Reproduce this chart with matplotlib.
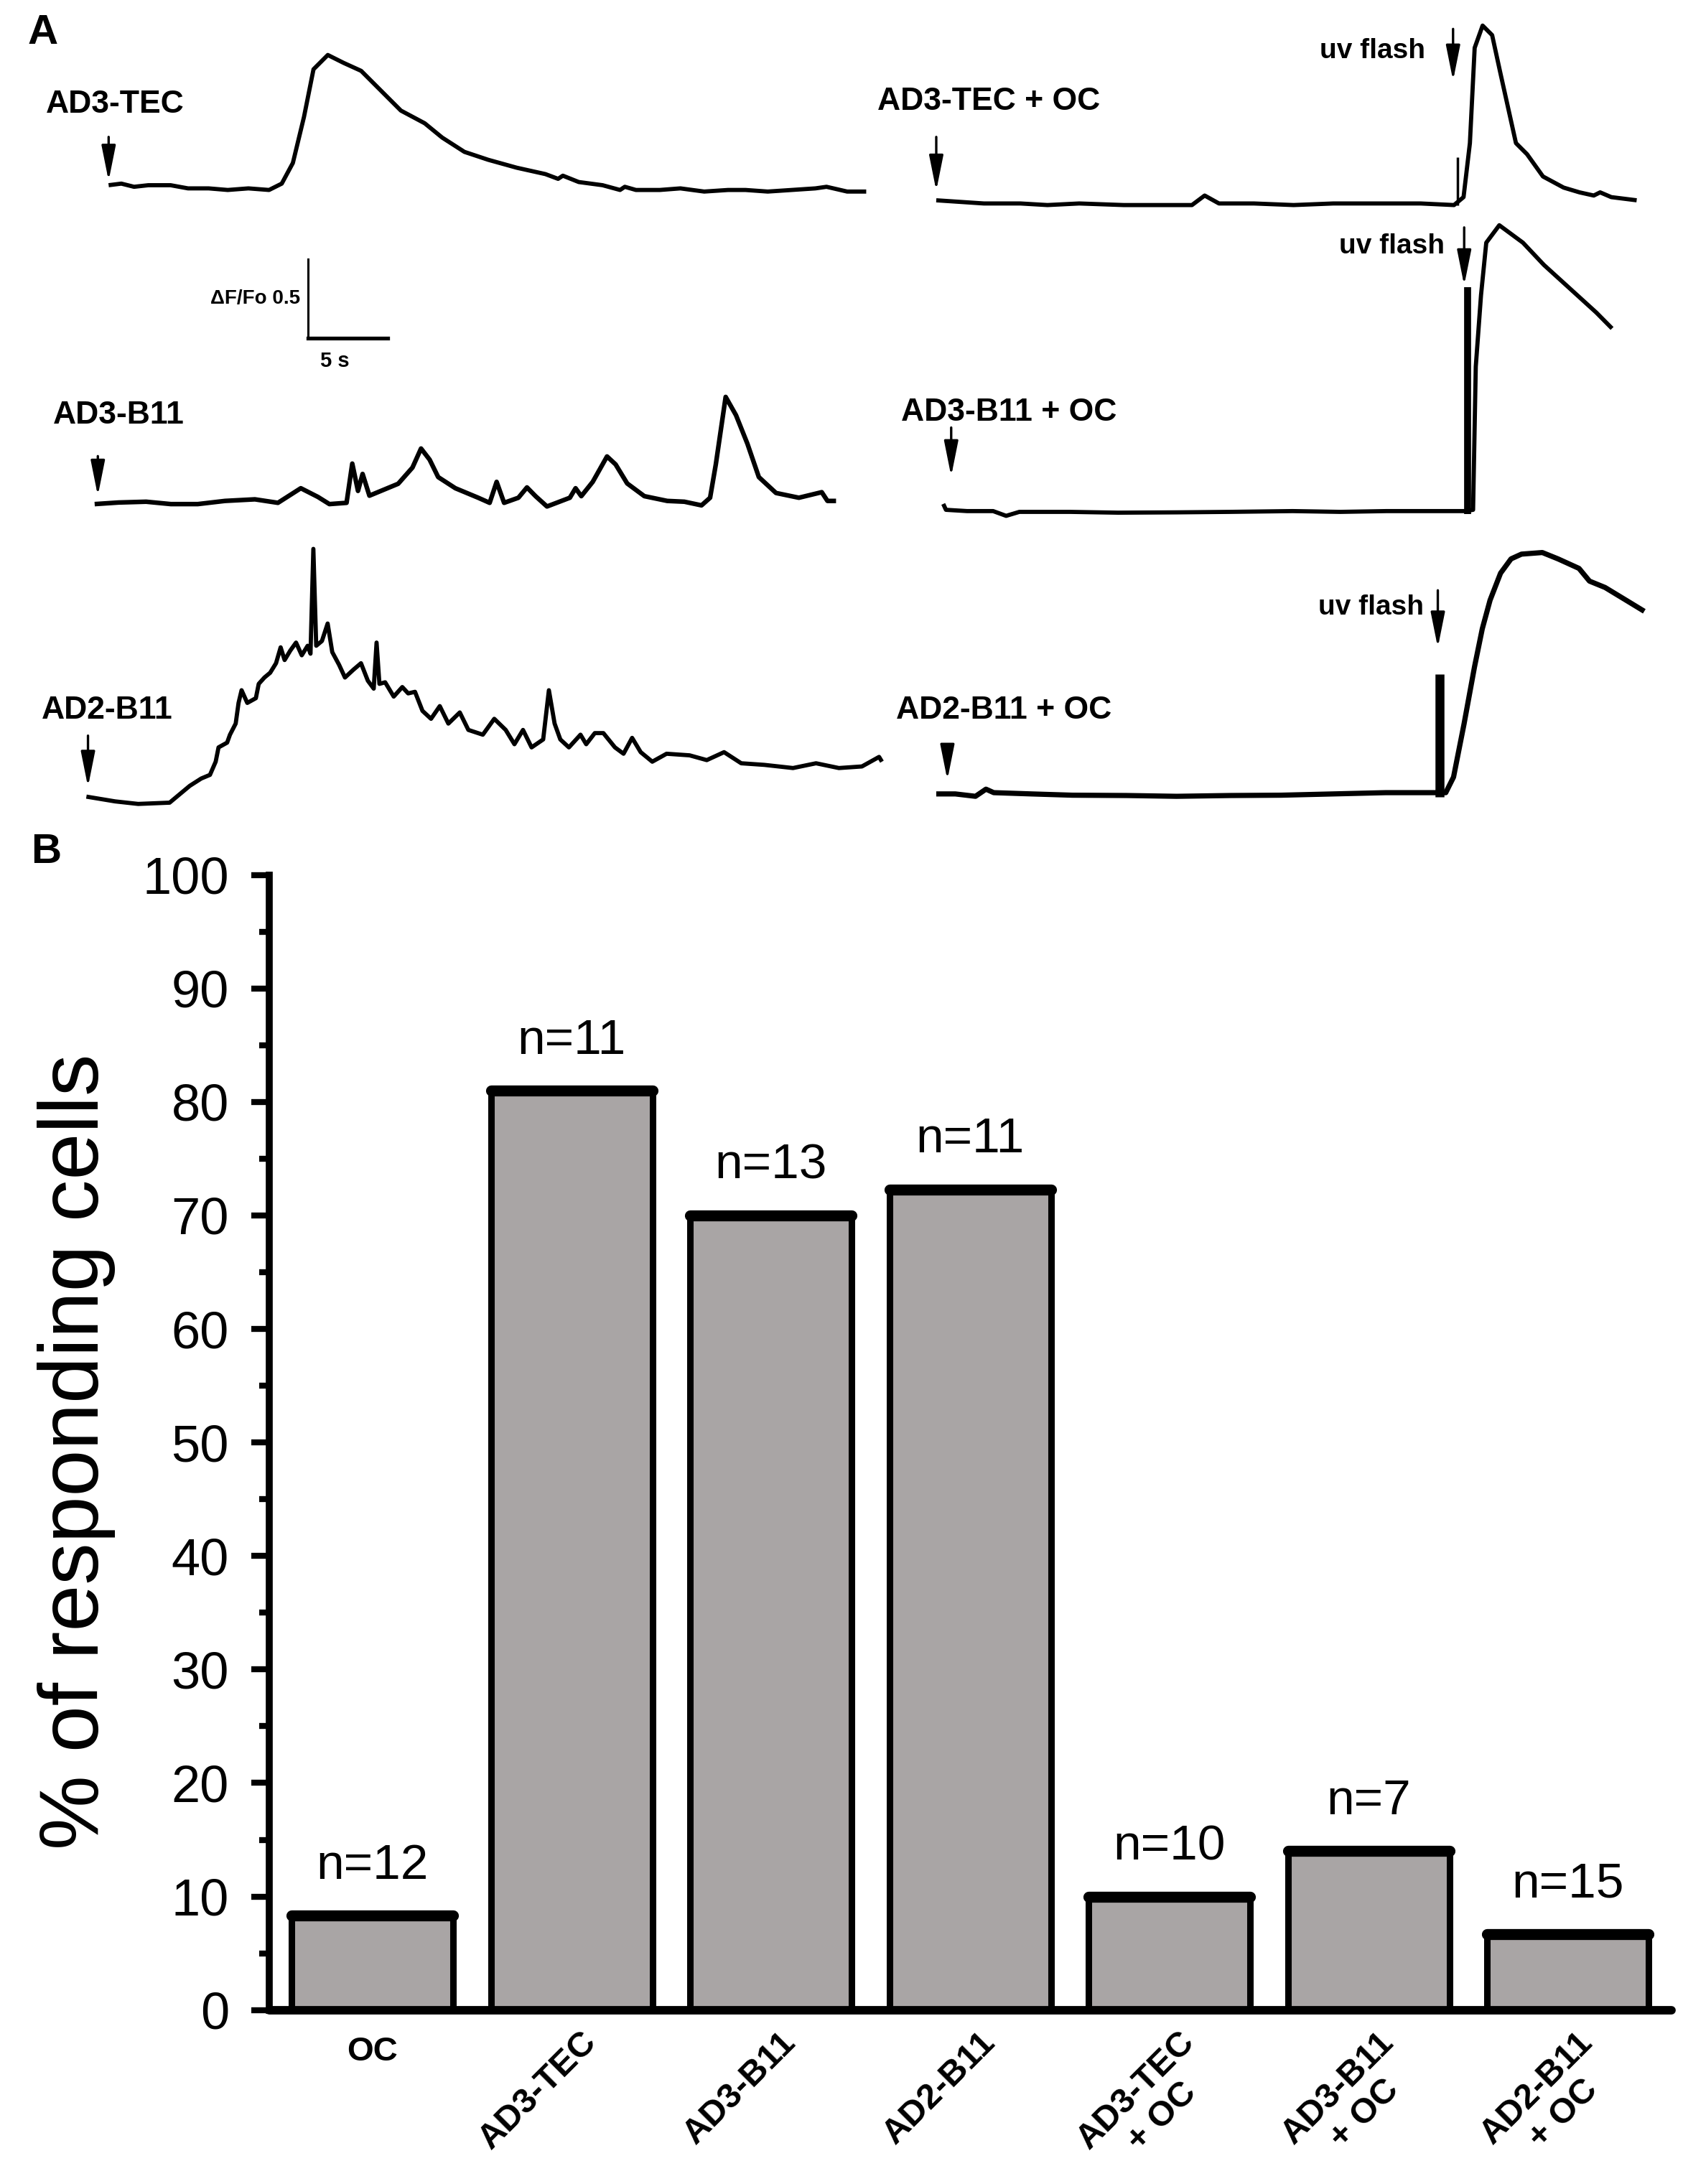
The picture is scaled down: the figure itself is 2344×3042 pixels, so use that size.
import matplotlib
matplotlib.use("Agg")
import matplotlib.pyplot as plt
import matplotlib.transforms as mtransforms
from matplotlib.ticker import MultipleLocator

plt.rcParams['font.family'] = ['Liberation Sans', 'DejaVu Sans']

# ---------------- Panel B data ----------------
groups = ['OC', 'AD3-TEC', 'AD3-B11', 'AD2-B11',
          'AD3-TEC\n+ OC', 'AD3-B11\n+ OC', 'AD2-B11\n+ OC']
pct_responding = [8.3, 81.0, 70.0, 72.3, 10.0, 14.0, 6.7]
n_cells = [12, 11, 13, 11, 10, 7, 15]

# ---------------- Panel A traces (time in s, dF/Fo) ----------------
ad3_tec = [(0, 0.00), (0.8, 0.01), (1.6, -0.01), (2.5, 0.00), (3.9, 0.00), (5.0, -0.02),
           (6.3, -0.02), (7.5, -0.03), (8.8, -0.02), (10.1, -0.03), (10.9, 0.01), (11.6, 0.14),
           (12.3, 0.43), (12.9, 0.73), (13.8, 0.82), (14.8, 0.77), (15.9, 0.72), (17.0, 0.61),
           (18.4, 0.47), (19.9, 0.39), (21.0, 0.30), (22.4, 0.21), (23.9, 0.16), (25.7, 0.11),
           (27.5, 0.07), (28.3, 0.04), (28.6, 0.06), (29.6, 0.02), (31.1, 0.00), (32.2, -0.03),
           (32.5, -0.01), (33.2, -0.03), (34.7, -0.03), (36.0, -0.02), (37.5, -0.04), (39.0, -0.03),
           (40.1, -0.03), (41.5, -0.04), (43.0, -0.03), (44.5, -0.02), (45.2, -0.01), (46.5, -0.04),
           (47.7, -0.04)]

ad3_tec_oc = [(0, 0.01), (1.5, 0.00), (3.0, -0.01), (5.3, -0.01), (7.0, -0.02), (9.0, -0.01),
              (11.8, -0.02), (14.0, -0.02), (16.1, -0.02), (16.9, 0.04), (17.8, -0.01), (20.0, -0.01),
              (22.5, -0.02), (25.0, -0.01), (28.0, -0.01), (30.5, -0.01), (32.6, -0.02), (33.2, 0.03),
              (33.6, 0.37), (33.9, 0.97), (34.4, 1.11), (35.0, 1.05), (35.5, 0.82), (36.5, 0.37),
              (37.2, 0.30), (38.2, 0.16), (39.5, 0.09), (40.5, 0.06), (41.4, 0.04), (41.8, 0.06),
              (42.5, 0.03), (44.1, 0.01)]

ad3_b11 = [(0, 0.00), (1.5, 0.01), (3.24, 0.015), (4.8, 0.00), (6.49, 0.00), (8.2, 0.02),
           (10.09, 0.03), (11.54, 0.008), (12.98, 0.10), (14.06, 0.045), (14.78, 0.00), (15.86, 0.008),
           (16.22, 0.255), (16.58, 0.083), (16.87, 0.19), (17.30, 0.053), (19.11, 0.128), (20.01, 0.23),
           (20.55, 0.35), (21.09, 0.28), (21.63, 0.17), (22.71, 0.10), (24.15, 0.04), (24.87, 0.008),
           (25.31, 0.14), (25.78, 0.008), (26.68, 0.04), (27.22, 0.105), (27.76, 0.05), (28.48, -0.015),
           (29.92, 0.04), (30.28, 0.10), (30.64, 0.05), (31.36, 0.14), (32.26, 0.30), (32.80, 0.25),
           (33.53, 0.13), (34.61, 0.05), (36.05, 0.02), (37.13, 0.015), (38.21, -0.008), (38.75, 0.04),
           (39.11, 0.25), (39.73, 0.675), (40.38, 0.56), (41.10, 0.38), (41.82, 0.17), (42.90, 0.07),
           (44.34, 0.04), (45.78, 0.075), (46.14, 0.02), (46.68, 0.02)]

ad3_b11_oc = [(0, 0.045), (0.17, 0.008), (1.5, 0.00), (3.14, 0.00), (3.96, -0.03), (4.79, -0.005),
              (8.0, -0.005), (11.0, -0.01), (14.7, -0.008), (18.0, -0.005), (22.0, 0.00), (25.0, -0.005),
              (27.91, 0.00), (30.0, 0.00), (32.86, 0.00), (33.36, 0.008), (33.53, 0.91), (33.86, 1.36),
              (34.19, 1.69), (35.01, 1.80), (36.5, 1.69), (37.82, 1.55), (39.47, 1.40), (41.12, 1.25),
              (42.11, 1.15)]

ad2_b11 = [(0, 0.00), (1.81, -0.03), (3.26, -0.046), (5.24, -0.038), (5.79, 0.008), (6.51, 0.068),
           (7.23, 0.114), (7.78, 0.137), (8.14, 0.22), (8.32, 0.31), (8.86, 0.34), (9.04, 0.39),
           (9.40, 0.46), (9.58, 0.59), (9.77, 0.67), (10.13, 0.59), (10.67, 0.62), (10.85, 0.71),
           (11.21, 0.75), (11.57, 0.78), (11.94, 0.84), (12.23, 0.94), (12.48, 0.86), (12.84, 0.92),
           (13.20, 0.97), (13.56, 0.89), (13.93, 0.95), (14.11, 0.90), (14.29, 1.56), (14.47, 0.95),
           (14.83, 0.98), (15.19, 1.09), (15.48, 0.91), (15.91, 0.83), (16.28, 0.75), (16.82, 0.80),
           (17.29, 0.84), (17.72, 0.73), (18.09, 0.68), (18.27, 0.97), (18.45, 0.71), (18.81, 0.72),
           (19.35, 0.63), (19.89, 0.69), (20.26, 0.65), (20.69, 0.66), (21.16, 0.54), (21.70, 0.49),
           (22.25, 0.57), (22.79, 0.46), (23.51, 0.53), (24.05, 0.42), (24.96, 0.39), (25.68, 0.49),
           (26.40, 0.42), (26.95, 0.33), (27.49, 0.42), (28.03, 0.31), (28.76, 0.36), (29.12, 0.67),
           (29.48, 0.46), (29.84, 0.36), (30.38, 0.31), (31.11, 0.39), (31.47, 0.33), (32.01, 0.40),
           (32.55, 0.40), (33.28, 0.31), (33.82, 0.27), (34.36, 0.37), (34.90, 0.28), (35.63, 0.22),
           (36.53, 0.27), (37.98, 0.26), (39.06, 0.23), (40.15, 0.28), (41.23, 0.21), (42.68, 0.20),
           (44.49, 0.18), (45.94, 0.21), (47.38, 0.18), (48.83, 0.19), (49.91, 0.25), (50.09, 0.22)]

ad2_b11_oc = [(0, 0.00), (1.2, 0.00), (2.47, -0.015), (3.13, 0.03), (3.62, 0.008), (6.0, 0.00),
              (8.55, -0.008), (12.0, -0.01), (15.13, -0.015), (18.5, -0.01), (21.71, -0.008),
              (25.0, 0.00), (28.29, 0.008), (31.58, 0.008), (32.08, 0.008), (32.57, 0.106),
              (33.23, 0.44), (33.89, 0.80), (34.38, 1.04), (34.87, 1.22), (35.53, 1.39), (36.19, 1.48),
              (36.85, 1.51), (38.16, 1.52), (39.15, 1.48), (40.47, 1.42), (41.13, 1.34), (42.11, 1.30),
              (43.43, 1.22), (44.58, 1.15)]

# uv flash artefact: time (s) and height (dF/Fo) for the OC recordings
flash_t = [32.8, 33.0, 31.7]
flash_h = [0.28, 1.41, 0.755]

# ---------------- figure ----------------
W, H = 2344, 3042
fig = plt.figure(figsize=(W / 100, H / 100), dpi=100)

# panel A: one axes in seconds / dF/Fo, 22.12 px per s, 221.2 px per unit dF/Fo
axA = fig.add_axes([0, 1 - 1164 / H, 1, 1164 / H])
axA.set_xlim(0, W / 22.12)
axA.set_ylim(0, 1164 / 221.2)
axA.axis('off')

lw_trace = [4.2, 4.2, 4.6, 4.2, 4.2, 5.2]
arrow_kw = dict(arrowstyle='-|>,head_length=3.0,head_width=0.6', color='black',
                lw=2.4, mutation_scale=10, shrinkA=0, shrinkB=0)

# (trace, x offset, y offset, label, label x, label y, arrow tail, arrow tip)
layout = [
    (ad3_tec, 6.84, 4.096, 'AD3-TEC', 2.89, 4.605, 4.40, 4.123),
    (ad3_tec_oc, 58.95, 3.991, 'AD3-TEC + OC', 55.26, 4.623, 4.40, 4.061),
    (ad3_b11, 5.96, 2.088, 'AD3-B11', 3.33, 2.649, 2.39, 2.140),
    (ad3_b11_oc, 59.39, 2.044, 'AD3-B11 + OC', 56.75, 2.667, 2.57, 2.263),
    (ad2_b11, 5.44, 0.246, 'AD2-B11', 2.63, 0.789, 0.63, 0.307),
    (ad2_b11_oc, 58.95, 0.263, 'AD2-B11 + OC', 56.40, 0.789, 0.56, 0.351),
]
arrow_dx = [0.0, 0.0, 0.2, 0.5, 0.1, 0.7]

for (trace, x0, y0, label, lx, ly, a_tail, a_tip), adx, lw in zip(layout, arrow_dx, lw_trace):
    t, f = zip(*trace)
    axA.plot([x0 + v for v in t], [y0 + v for v in f], color='black', lw=lw,
             solid_joinstyle='round', solid_capstyle='butt')
    axA.text(lx, ly, label, fontsize=32, fontweight='bold', ha='left', va='center')
    axA.annotate('', xy=(x0 + adx, a_tip), xytext=(x0 + adx, a_tail), arrowprops=arrow_kw)

# uv flash artefacts + arrows (traces 2, 4, 6)
oc_rows = [layout[1], layout[3], layout[5]]
flash_lw = [2.5, 7.0, 9.0]
uv_arrow = [(91.49, 5.080, 4.754, 89.74, 4.939),
            (92.19, 3.830, 3.465, 90.96, 3.711),
            (90.53, 1.545, 1.184, 89.65, 1.439)]
for row, ft, fh, flw, (ax_x, tail, tip, tx, ty) in zip(oc_rows, flash_t, flash_h, flash_lw, uv_arrow):
    x0, y0 = row[1], row[2]
    axA.vlines(x0 + ft, y0 - 0.02, y0 + fh, color='black', lw=flw)
    axA.annotate('', xy=(ax_x, tip), xytext=(ax_x, tail), arrowprops=arrow_kw)
    axA.text(tx, ty, 'uv flash', fontsize=28, fontweight='bold', ha='right', va='center')

# scale bar: 5 s and 0.5 dF/Fo
sb_x, sb_y = 19.39, 3.132
axA.plot([sb_x, sb_x], [sb_y, sb_y + 0.5], color='black', lw=2.2)
axA.plot([sb_x, sb_x + 5], [sb_y, sb_y], color='black', lw=3.8)
axA.text(sb_x - 0.5, sb_y + 0.25, '\u0394F/Fo 0.5', fontsize=20, fontweight='bold',
         ha='right', va='center')
axA.text(sb_x + 1.7, sb_y - 0.08, '5 s', fontsize=21, fontweight='bold', ha='center', va='top')

fig.text(20 / 1208, 1 - 10 / 1568, 'A', fontsize=42, fontweight='bold', ha='left', va='top')
fig.text(22 / 1208, 1 - 598 / 1568, 'B', fontsize=42, fontweight='bold', ha='left', va='top')

# panel B: bar chart
axB = fig.add_axes([374.5 / W, 242.3 / H, (2328 - 374.5) / W, (2799.7 - 1218.6) / H])
x = list(range(len(groups)))
bar_w = 0.81
axB.bar(x, pct_responding, width=bar_w, color='#a9a5a5', edgecolor='black', linewidth=6.5,
        zorder=2)
axB.hlines(pct_responding, [i - bar_w / 2 for i in x], [i + bar_w / 2 for i in x],
           color='black', lw=11, zorder=3, capstyle='round')
for i, (v, n) in enumerate(zip(pct_responding, n_cells)):
    axB.annotate(f'n={n}', (i, v), xytext=(0, 27), textcoords='offset points',
                 ha='center', va='bottom', fontsize=50)

axB.set_xlim(-0.52, len(groups) - 0.48)
axB.set_ylim(0, 100)
axB.yaxis.set_major_locator(MultipleLocator(10))
axB.yaxis.set_minor_locator(MultipleLocator(5))
axB.tick_params(axis='y', which='major', length=18, width=6, labelsize=52, pad=22)
axB.tick_params(axis='y', which='minor', length=10, width=6)
axB.tick_params(axis='x', length=0, labelbottom=False)
for side in ('top', 'right'):
    axB.spines[side].set_visible(False)
axB.spines['left'].set_linewidth(7)
axB.spines['bottom'].set_linewidth(8.5)
axB.spines['bottom'].set_capstyle('round')

# category labels under the bars
for i, g in enumerate(groups):
    if i == 0:
        off = mtransforms.ScaledTranslation(0, -36 / 100, fig.dpi_scale_trans)
        axB.text(i, 0, g, transform=axB.transData + off, fontsize=34, fontweight='bold',
                 ha='center', va='top')
    else:
        off = mtransforms.ScaledTranslation(12 / 100, -22 / 100, fig.dpi_scale_trans)
        axB.text(i, 0, g, transform=axB.transData + off, fontsize=35, fontweight='bold',
                 ha='right', va='top', rotation=45, rotation_mode='anchor',
                 multialignment='center')

fig.text(55 / 1208, 1 - 1042 / 1568, '% of responding cells', fontsize=84, rotation=90,
         ha='center', va='center')

fig.savefig('out.png', dpi=100)
